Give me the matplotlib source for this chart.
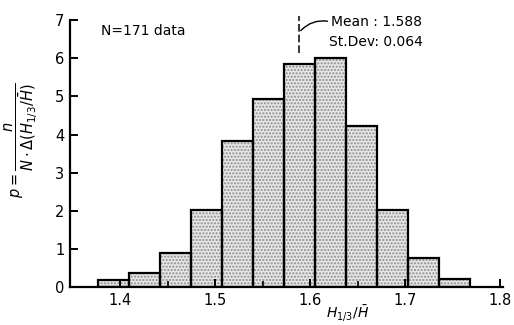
import matplotlib
matplotlib.use("Agg")
import matplotlib.pyplot as plt
import numpy as np

# histogram
bin_left = 1.3765
bin_width = 0.0326
heights = [0.17, 0.36, 0.90, 2.02, 3.83, 4.93, 5.85, 6.02, 4.23, 2.02, 0.77, 0.22]
mean_val = 1.588
std_val = 0.064
n_data = 171

x_ticks = [1.4, 1.5, 1.6, 1.7, 1.8]
y_ticks = [0, 1, 2, 3, 4, 5, 6, 7]

plt.rcParams['font.family'] = ['DejaVu Sans']

fig = plt.figure(figsize=(5.14, 3.25), dpi=100)
ax = fig.add_axes([0.136, 0.117, 0.843, 0.821])

lefts = bin_left + bin_width * np.arange(len(heights))
# stippled fill, then black outline
ax.bar(lefts, heights, width=bin_width, align='edge', color='#e6e6e6',
       edgecolor='#8c8c8c', hatch='.....', linewidth=0)
ax.bar(lefts, heights, width=bin_width, align='edge', fill=False,
       edgecolor='black', linewidth=1.6)

ax.set_xlim(1.347, 1.803)
ax.set_ylim(0, 7)
for s in ['top', 'right']:
    ax.spines[s].set_visible(False)
for s in ['left', 'bottom']:
    ax.spines[s].set_linewidth(1.6)

ax.set_xticks(x_ticks)
ax.set_xticklabels([str(t) for t in x_ticks])
ax.set_xticks(np.arange(1.45, 1.7, 0.1), minor=True)
ax.set_yticks(y_ticks)
ax.tick_params(axis='both', which='major', direction='in', length=6, width=1.4,
               labelsize=10.5, pad=4)
ax.tick_params(axis='x', which='minor', direction='in', length=4, width=1.2)

# mean marker and label
ax.plot([mean_val, mean_val], [6.15, 7.1], color='black', lw=1.1,
        ls=(0, (5, 2)), clip_on=False)
ax.annotate('', xy=(1.621, 6.96), xytext=(mean_val, 6.67),
            arrowprops=dict(arrowstyle='-', lw=1.0, color='black',
                            connectionstyle='arc3,rad=-0.3'),
            annotation_clip=False)
ax.text(1.622, 6.96, 'Mean : %.3f' % mean_val, fontsize=10, va='center', ha='left')
ax.text(1.620, 6.42, 'St.Dev: %.3f' % std_val, fontsize=10, va='center', ha='left')
ax.text(1.380, 6.72, 'N=%d data' % n_data, fontsize=10, va='center', ha='left')

ax.set_ylabel(r'$p=\dfrac{n}{N\cdot\Delta(H_{1/3}/\bar{H})}$', fontsize=10.5)
ax.yaxis.set_label_coords(-0.07, 0.55)
ax.set_xlabel(r'$H_{1/3}/\bar{H}$', fontsize=10)
ax.xaxis.set_label_coords(0.64, -0.06)
ax.xaxis.label.set_verticalalignment('top')

fig.savefig('out.png', dpi=100)
